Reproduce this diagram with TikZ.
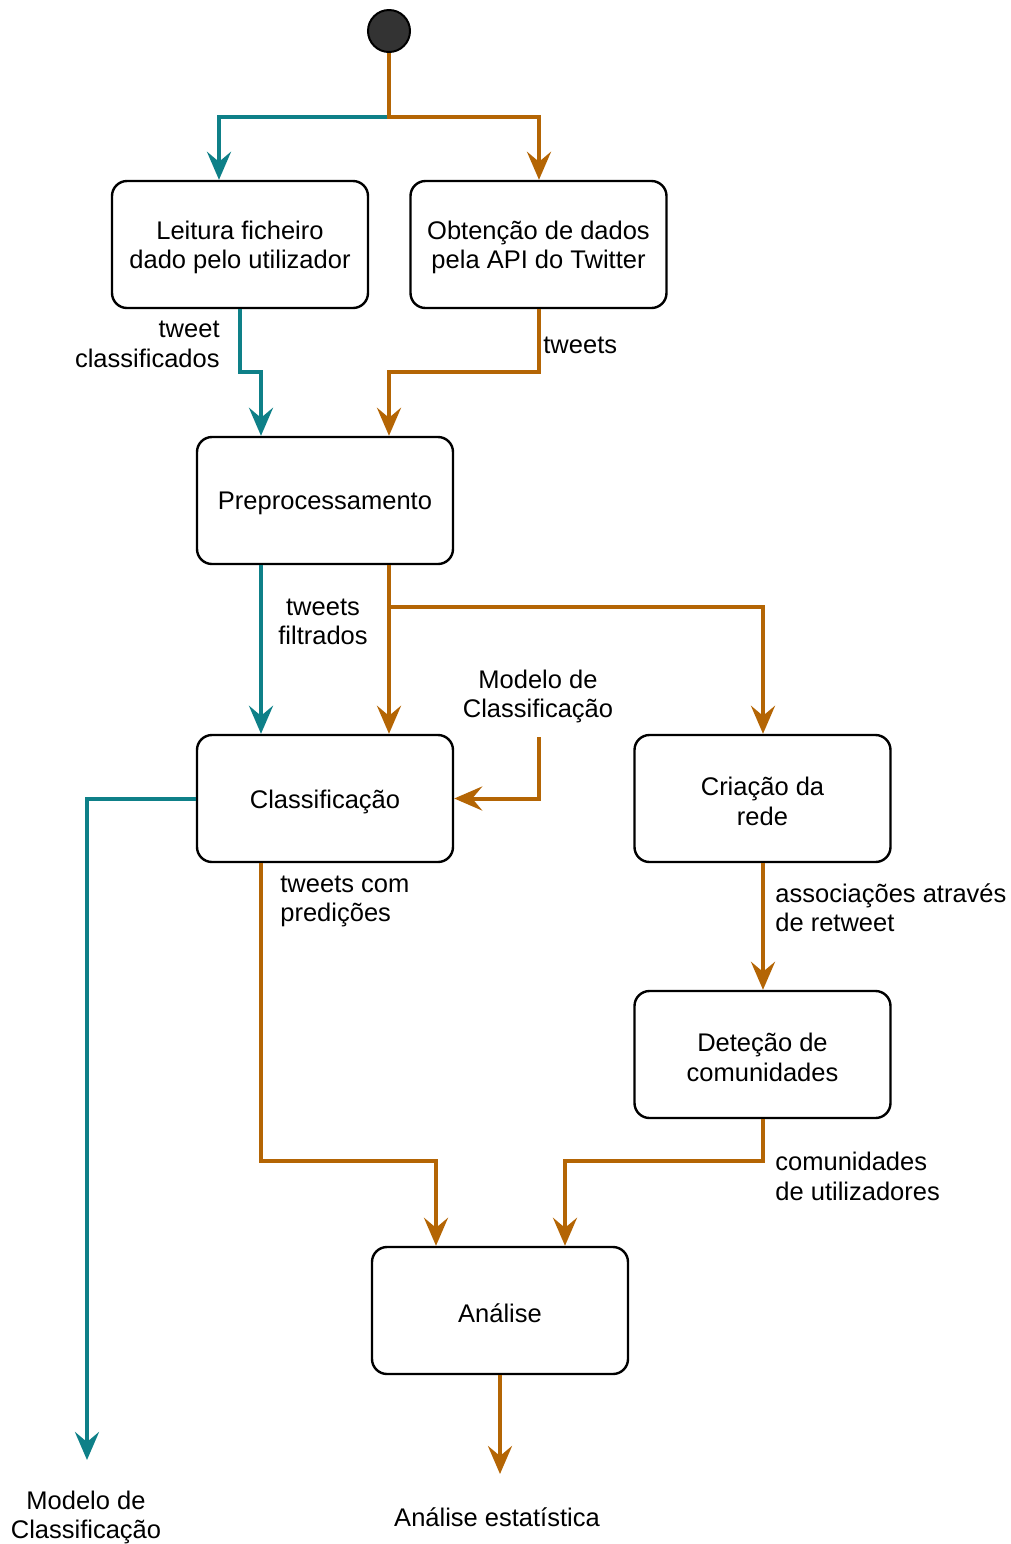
\documentclass[tikz,border=0pt]{standalone}
\usepackage{fontspec}
\setmainfont{Liberation Sans}
\usetikzlibrary{arrows.meta}
\definecolor{flowteal}{HTML}{0E8088}
\definecolor{floworange}{HTML}{B46504}
\definecolor{startfill}{HTML}{333333}
\begin{document}
\begin{tikzpicture}[x=0.5pt,y=-0.5pt,
  txt/.style={font=\fontsize{12.75}{14.75}\selectfont, inner sep=0pt, yshift=-1.5pt},
  box/.style={draw=black, line width=1.2pt, rounded corners=7.5pt,
    minimum width=128pt, minimum height=63.5pt, inner sep=0pt},
  flow/.style={line width=2pt, -{Stealth[length=14pt,width=12pt,inset=5pt]}},
  tealflow/.style={flow, draw=flowteal},
  orangeflow/.style={flow, draw=floworange}]
\useasboundingbox (0,0) rectangle (1011,1544);

% states
\node[circle, draw=black, line width=1pt, fill=startfill, minimum size=21pt, inner sep=0pt] (start) at (389,31) {};
\node[box, label={[txt,align=center]center:{Leitura ficheiro\\dado pelo utilizador}}] (leitura) at (240,244.5) {};
\node[box, label={[txt,align=center]center:{Obtenção de dados\\pela API do Twitter}}] (api) at (538.5,244.5) {};
\node[box, label={[txt,align=center]center:{Preprocessamento}}] (prep) at (325,500.5) {};
\node[box, label={[txt,align=center]center:{Classificação}}] (classif) at (325,798.5) {};
\node[box, label={[txt,align=center]center:{Criação da\\rede}}] (rede) at (762.5,798.5) {};
\node[box, label={[txt,align=center]center:{Deteção de\\comunidades}}] (detecao) at (762.5,1054.5) {};
\node[box, label={[txt,align=center]center:{Análise}}] (analise) at (500,1310.5) {};

% inputs and outputs
\node[txt, align=center] (modelin) at (538,693.5) {Modelo de\\Classificação};
\coordinate (modelsrc) at (539,737);
\coordinate (modelend) at (87,1460);
\node[txt, align=center] (modelout) at (86,1514.5) {Modelo de\\Classificação};
\coordinate (statend) at (500,1474);
\node[txt, align=center] (statout) at (497,1514) {Análise estatística};

% edge labels
\node[txt, align=right, anchor=east] (lbltc) at (220,341.5) {tweet\\classificados};
\node[txt, align=left, anchor=west] (lbltw) at (543,342) {tweets};
\node[txt, align=center] (lblfilt) at (323,619) {tweets\\filtrados};
\node[txt, align=left, anchor=west] (lblpred) at (280,898.5) {tweets com\\predições};
\node[txt, align=left, anchor=west] (lblassoc) at (775,904.5) {associações através\\de retweet};
\node[txt, align=left, anchor=west] (lblcom) at (775,1173.5) {comunidades\\de utilizadores};

% user-file path
\draw[tealflow] (start.south) -- (389,117) -| (leitura.north -| 219,0);
\draw[tealflow] (leitura.south) -- (240,372) -| (prep.north -| 261,0);
\draw[tealflow] (prep.south -| 261,0) -- (classif.north -| 261,0);
\draw[tealflow] (classif.west) -| (modelend);

% Twitter API path
\draw[orangeflow] (start.south) |- (539,117) -- (api.north -| 539,0);
\draw[orangeflow] (api.south -| 539,0) -- (539,372) -| (prep.north -| 389,0);
\draw[orangeflow] (prep.south -| 389,0) -- (classif.north -| 389,0);
\draw[orangeflow] (prep.south -| 389,0) -- (389,607) -| (rede.north -| 763,0);
\draw[orangeflow] (modelsrc) |- (classif.east);
\draw[orangeflow] (rede.south -| 763,0) -- (detecao.north -| 763,0);
\draw[orangeflow] (classif.south -| 261,0) |- (436,1161) -- (analise.north -| 436,0);
\draw[orangeflow] (detecao.south -| 763,0) |- (565,1161) -- (analise.north -| 565,0);
\draw[orangeflow] (analise.south) -- (statend);
\end{tikzpicture}
\end{document}
